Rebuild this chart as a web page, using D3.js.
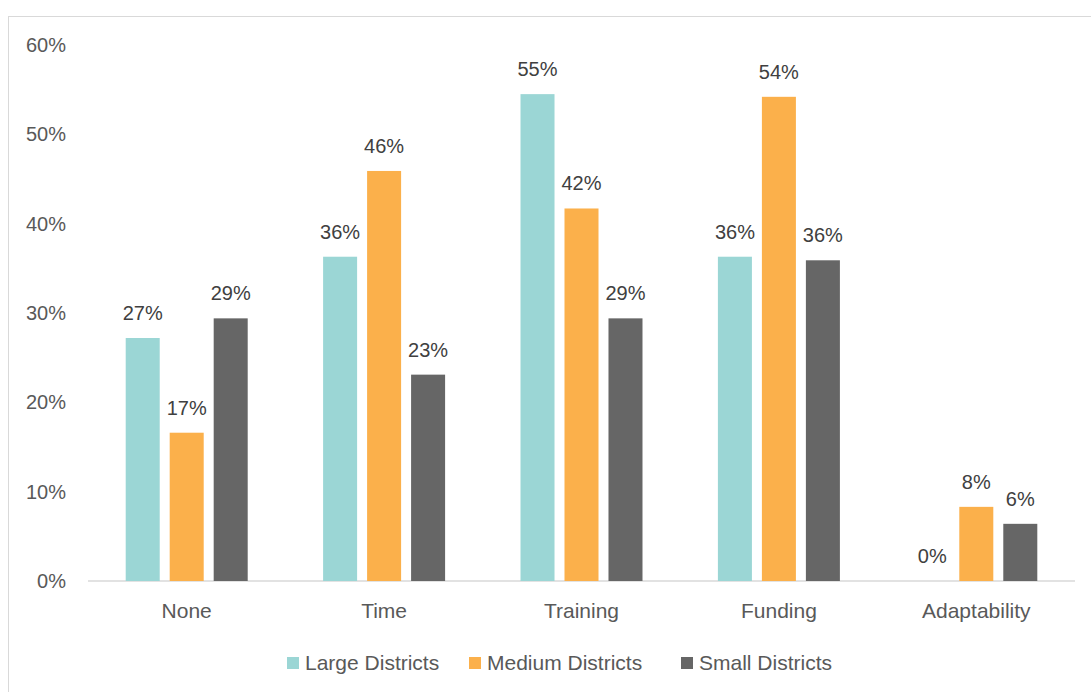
<!DOCTYPE html>
<html>
<head>
<meta charset="utf-8">
<script src="https://cdn.jsdelivr.net/npm/d3@7"></script>
<style>
  body { margin: 0; background: #fff; }
  svg { font-family: "Liberation Sans", Arial, sans-serif; }
</style>
</head>
<body>
<svg id="chart" width="1091" height="692"></svg>
<script>
const categories = ["None", "Time", "Training", "Funding", "Adaptability"];
const seriesNames = ["Large Districts", "Medium Districts", "Small Districts"];
const large = [0.272, 0.363, 0.545, 0.363, 0.0];
const medium = [0.166, 0.459, 0.417, 0.542, 0.083];
const small = [0.294, 0.231, 0.294, 0.359, 0.064];
const yTicks = [0, 0.1, 0.2, 0.3, 0.4, 0.5, 0.6];
const colors = ["#9bd6d5", "#fbb04b", "#666666"];

const svg = d3.select("#chart");
const series = [large, medium, small];

// chart frame
svg.append("rect")
  .attr("x", 8.5).attr("y", 16.5)
  .attr("width", 1100).attr("height", 700)
  .attr("fill", "none").attr("stroke", "#d9d9d9");

const x = d3.scaleBand().domain(categories).range([88, 1075]);
const xs = d3.scaleBand().domain(seriesNames).range([0, x.bandwidth()])
  .paddingInner(0.227).paddingOuter(0.857);
const y = d3.scaleLinear().domain([0, 0.6]).range([581, 45]);

// y labels
svg.append("g").selectAll("text")
  .data(yTicks)
  .join("text")
  .attr("x", 66)
  .attr("y", d => y(d))
  .attr("dy", "0.35em")
  .attr("text-anchor", "end")
  .attr("fill", "#595959")
  .style("font-size", "20px")
  .text(d => d3.format(".0%")(d));

// baseline
svg.append("line")
  .attr("x1", 88).attr("x2", 1075)
  .attr("y1", y(0)).attr("y2", y(0))
  .attr("stroke", "#d9d9d9").attr("stroke-width", 1.5);

const rows = categories.map((c, i) => seriesNames.map((s, j) => ({cat: c, name: s, value: series[j][i], j})));

const groups = svg.append("g").selectAll("g")
  .data(rows)
  .join("g")
  .attr("transform", (d, i) => `translate(${x(categories[i])},0)`);

groups.selectAll("rect")
  .data(d => d)
  .join("rect")
  .attr("x", d => xs(d.name))
  .attr("width", xs.bandwidth())
  .attr("y", d => y(d.value))
  .attr("height", d => y(0) - y(d.value))
  .attr("fill", d => colors[d.j]);

groups.selectAll("text")
  .data(d => d)
  .join("text")
  .attr("x", d => xs(d.name) + xs.bandwidth() / 2)
  .attr("y", d => y(d.value) - 18)
  .attr("text-anchor", "middle")
  .attr("fill", "#404040")
  .style("font-size", "20px")
  .text(d => d3.format(".0%")(d.value));

// x labels
svg.append("g").selectAll("text")
  .data(categories)
  .join("text")
  .attr("x", d => x(d) + x.bandwidth() / 2)
  .attr("y", 618)
  .attr("text-anchor", "middle")
  .attr("fill", "#595959")
  .style("font-size", "21px")
  .text(d => d);

// legend
const legendX = [287, 469, 681];
const legend = svg.append("g").selectAll("g")
  .data(seriesNames)
  .join("g")
  .attr("transform", (d, i) => `translate(${legendX[i]},663)`);

legend.append("rect")
  .attr("x", 0).attr("y", -6)
  .attr("width", 12).attr("height", 12)
  .attr("fill", (d, i) => colors[i]);

legend.append("text")
  .attr("x", 18)
  .attr("dy", "0.35em")
  .attr("fill", "#595959")
  .style("font-size", "21px")
  .text(d => d);
</script>
</body>
</html>
